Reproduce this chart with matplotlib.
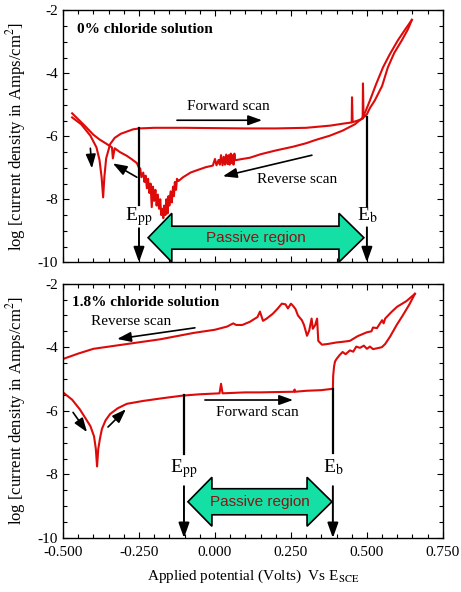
import matplotlib
matplotlib.use("Agg")
import matplotlib.pyplot as plt
from matplotlib.patches import Polygon
from matplotlib.ticker import MultipleLocator, FormatStrFormatter

plt.rcParams['font.family'] = 'serif'
plt.rcParams['font.serif'] = ['Liberation Serif', 'DejaVu Serif']
plt.rcParams['mathtext.fontset'] = 'stix'
plt.rcParams['axes.unicode_minus'] = False

# ---- 0% chloride: forward scan ----
fwd0_x = [-0.47, -0.44, -0.41, -0.39, -0.38, -0.373, -0.368, -0.364, -0.358, -0.345,
          -0.33, -0.31, -0.29, -0.27, -0.25, -0.2, -0.1, 0.0, 0.1, 0.2, 0.3, 0.38,
          0.42, 0.45, 0.451, 0.453, 0.47, 0.486, 0.487, 0.489, 0.50, 0.51, 0.526,
          0.55, 0.569, 0.59, 0.615, 0.635, 0.648]
fwd0_y = [-5.40, -5.62, -5.98, -6.35, -6.75, -7.30, -7.94, -7.30, -6.70, -6.25,
          -6.05, -5.92, -5.85, -5.78, -5.75, -5.73, -5.73, -5.74, -5.75, -5.75, -5.73, -5.66,
          -5.60, -5.56, -4.76, -5.55, -5.50, -5.44, -4.32, -5.40, -5.30, -5.10, -4.86,
          -4.40, -3.81, -3.35, -2.95, -2.60, -2.30]

# ---- 0% chloride: reverse scan ----
rev0_x = [0.648, 0.625, 0.602, 0.575, 0.553, 0.53, 0.51, 0.495, 0.484, 0.46, 0.42, 0.378,
          0.33, 0.30, 0.257, 0.20, 0.15, 0.115, 0.09,
          0.066, 0.064, 0.061, 0.058, 0.055, 0.052, 0.048, 0.045, 0.041, 0.037, 0.033,
          0.029, 0.025, 0.02, 0.016, 0.012, 0.005, 0.0, -0.007,
          -0.03, -0.06, -0.08, -0.105, -0.12,
          -0.125, -0.128, -0.132, -0.135, -0.138, -0.142, -0.146, -0.15, -0.153, -0.156,
          -0.16, -0.163, -0.167, -0.17, -0.173, -0.177, -0.18, -0.184, -0.188, -0.192,
          -0.196, -0.2, -0.204, -0.208, -0.212, -0.216, -0.22, -0.224, -0.228, -0.232,
          -0.236, -0.242, -0.246, -0.25,
          -0.257, -0.275, -0.29, -0.313, -0.33, -0.336, -0.339, -0.36, -0.38, -0.40,
          -0.43, -0.47]
rev0_y = [-2.30, -2.62, -2.95, -3.40, -3.81, -4.35, -4.86, -5.22, -5.43, -5.62, -5.82, -5.98,
          -6.12, -6.22, -6.33, -6.45, -6.57, -6.68, -6.72,
          -6.76, -6.55, -6.90, -6.60, -6.85, -6.55, -6.90, -6.60, -6.88, -6.58, -6.90,
          -6.65, -6.92, -6.60, -6.90, -6.75, -6.92, -6.72, -6.93,
          -6.98, -7.08, -7.15, -7.30, -7.42,
          -7.35, -7.70, -7.45, -7.90, -7.60, -8.10, -7.75, -8.20, -7.90, -8.45,
          -8.00, -8.50, -8.20, -8.60, -8.30, -8.50, -8.00, -8.30, -7.85, -8.20,
          -7.70, -8.05, -7.60, -8.25, -7.50, -7.80, -7.35, -7.65, -7.25, -7.45,
          -7.15, -7.30, -7.02, -7.00,
          -6.85, -6.72, -6.62, -6.50, -6.38, -6.70, -6.35, -6.22, -6.10, -5.95,
          -5.65, -5.27]

# ---- 1.8% chloride: forward scan ----
fwd18_x = [-0.5, -0.47, -0.445, -0.425, -0.41, -0.398, -0.392, -0.388, -0.384, -0.378,
           -0.372, -0.36, -0.345, -0.32, -0.29, -0.237, -0.17, -0.105, -0.05, 0.015,
           0.02, 0.025, 0.1, 0.15, 0.2, 0.26, 0.262, 0.264, 0.3, 0.35, 0.385, 0.388,
           0.389, 0.392, 0.395, 0.40, 0.41, 0.42, 0.43, 0.444, 0.455, 0.465, 0.477,
           0.49, 0.50, 0.51, 0.52, 0.535, 0.549, 0.56, 0.576, 0.598, 0.618, 0.64, 0.658]
fwd18_y = [-5.42, -5.65, -5.95, -6.25, -6.48, -6.80, -7.20, -7.75, -7.20, -6.85,
           -6.57, -6.30, -6.10, -5.92, -5.78, -5.69, -5.60, -5.52, -5.48, -5.45,
           -5.15, -5.45, -5.42, -5.42, -5.41, -5.40, -5.33, -5.40, -5.37, -5.35, -5.31, -5.31,
           -4.90, -4.60, -4.45, -4.37, -4.25, -4.15, -4.22, -4.10, -4.14, -3.98, -4.02,
           -3.95, -4.05, -3.98, -4.06, -4.03, -4.00, -3.90, -3.67, -3.30, -3.00, -2.65, -2.32]

# ---- 1.8% chloride: reverse scan ----
rev18_x = [0.658, 0.63, 0.599, 0.58, 0.56, 0.555, 0.55, 0.533, 0.52, 0.515, 0.5, 0.47,
           0.444, 0.42, 0.40, 0.37, 0.352, 0.34, 0.336, 0.33, 0.322, 0.318, 0.31, 0.303,
           0.293, 0.286, 0.273, 0.265, 0.257, 0.25, 0.24, 0.232, 0.22, 0.205, 0.19, 0.17,
           0.158, 0.148, 0.14, 0.115, 0.09, 0.07, 0.06, 0.04, 0.0, -0.07, -0.18, -0.29,
           -0.40, -0.45, -0.5]
rev18_y = [-2.32, -2.55, -2.73, -2.90, -3.10, -3.25, -3.15, -3.40, -3.38, -3.50, -3.53, -3.65,
           -3.80, -3.83, -3.85, -3.90, -3.92, -3.80, -3.10, -3.30, -3.42, -3.10, -3.48, -3.64,
           -3.30, -3.15, -3.00, -2.80, -2.70, -2.63, -2.78, -2.65, -2.63, -2.80, -2.95, -3.10,
           -3.17, -2.88, -3.05, -3.20, -3.30, -3.30, -3.25, -3.35, -3.45, -3.55, -3.75, -3.90,
           -4.05, -4.20, -4.37]

RED = '#DD0A0A'
GREEN = '#14E0A6'

fig = plt.figure(figsize=(4.61, 5.92), dpi=100)
ax1 = fig.add_axes([0.1367, 0.5570, 0.824, 0.4255])
ax2 = fig.add_axes([0.1367, 0.0912, 0.824, 0.4297])


def style_axes(ax, show_x):
    ax.set_xlim(-0.5, 0.75)
    ax.set_ylim(-10, -2)
    ax.xaxis.set_major_locator(MultipleLocator(0.25))
    ax.xaxis.set_minor_locator(MultipleLocator(0.05))
    ax.xaxis.set_major_formatter(FormatStrFormatter('%.3f'))
    ax.yaxis.set_major_locator(MultipleLocator(2))
    ax.yaxis.set_minor_locator(MultipleLocator(0.5))
    ax.yaxis.set_major_formatter(FormatStrFormatter('%d'))
    ax.tick_params(which='both', direction='in', top=True, right=True,
                   labelsize=11, width=0.8)
    ax.tick_params(which='major', length=4)
    ax.tick_params(which='minor', length=3)
    ax.tick_params(axis='x', labelbottom=show_x, pad=6)
    for sp in ax.spines.values():
        sp.set_linewidth(1.0)
    ax.set_ylabel('log [current density in Amps/cm$^2$]', fontsize=12)
    ax.yaxis.set_label_coords(-0.093, 0.5)


def passive_arrow(ax, x_tip_l, x_base_l, x_base_r, x_tip_r, yc, head_h, body_h):
    pts = [(x_tip_l, yc), (x_base_l, yc + head_h), (x_base_l, yc + body_h),
           (x_base_r, yc + body_h), (x_base_r, yc + head_h), (x_tip_r, yc),
           (x_base_r, yc - head_h), (x_base_r, yc - body_h), (x_base_l, yc - body_h),
           (x_base_l, yc - head_h)]
    ax.add_patch(Polygon(pts, closed=True, facecolor=GREEN, edgecolor='black',
                         lw=1.2, clip_on=False, zorder=3))
    ax.text((x_tip_l + x_tip_r) / 2, yc, 'Passive region', ha='center', va='center',
            family='Liberation Sans', fontsize=11, color='#8B1212', zorder=4)


def arrow(ax, start, end, lw=1.2, scale=12):
    ax.annotate('', xy=end, xytext=start,
                arrowprops=dict(arrowstyle='-|>,head_length=0.7,head_width=0.25',
                                color='black', lw=lw, mutation_scale=scale,
                                shrinkA=0, shrinkB=0))


def potential_marker(ax, x, y_curve, y_line_end, y_text, y_arrow_start, label):
    ax.plot([x, x], [y_curve, y_line_end], color='black', lw=1.6, zorder=2)
    ax.text(x, y_text, label, ha='center', va='center', fontsize=14)
    arrow(ax, (x, y_arrow_start), (x, -10.0), lw=1.4, scale=13)


# ---------- top panel ----------
style_axes(ax1, False)
ax1.plot(fwd0_x, fwd0_y, color=RED, lw=1.5, zorder=2)
ax1.plot(rev0_x, rev0_y, color=RED, lw=1.5, zorder=2)
ax1.text(-0.454, -2.6, '0% chloride solution', fontsize=11, fontweight='bold',
         ha='left', va='center')
ax1.text(0.043, -5.05, 'Forward scan', fontsize=11, ha='center', va='center')
arrow(ax1, (-0.125, -5.49), (0.155, -5.49))
ax1.text(0.27, -7.37, 'Reverse scan', fontsize=11, ha='center', va='center')
arrow(ax1, (0.319, -6.6), (0.026, -7.27))
arrow(ax1, (-0.41, -6.38), (-0.405, -7.02))
arrow(ax1, (-0.257, -7.3), (-0.336, -6.86))
potential_marker(ax1, -0.25, -5.75, -8.19, -8.55, -8.92, r'E$_{\mathrm{pp}}$')
potential_marker(ax1, 0.50, -5.40, -8.20, -8.50, -8.89, r'E$_{\mathrm{b}}$')
passive_arrow(ax1, -0.22, -0.142, 0.408, 0.49, -9.22, 0.775, 0.365)

# ---------- bottom panel ----------
style_axes(ax2, True)
ax2.plot(fwd18_x, fwd18_y, color=RED, lw=1.5, zorder=2)
ax2.plot(rev18_x, rev18_y, color=RED, lw=1.5, zorder=2)
ax2.text(-0.47, -2.6, '1.8% chloride solution', fontsize=11, fontweight='bold',
         ha='left', va='center')
ax2.text(-0.277, -3.2, 'Reverse scan', fontsize=11, ha='center', va='center')
arrow(ax2, (-0.066, -3.39), (-0.322, -3.74))
ax2.text(0.138, -6.05, 'Forward scan', fontsize=11, ha='center', va='center')
arrow(ax2, (-0.033, -5.66), (0.257, -5.66))
arrow(ax2, (-0.467, -6.05), (-0.421, -6.67))
arrow(ax2, (-0.352, -6.51), (-0.293, -5.95))
potential_marker(ax2, -0.102, -5.50, -7.37, -7.82, -8.37, r'E$_{\mathrm{pp}}$')
potential_marker(ax2, 0.388, -5.31, -7.33, -7.78, -8.37, r'E$_{\mathrm{b}}$')
passive_arrow(ax2, -0.089, -0.01, 0.303, 0.385, -8.86, 0.77, 0.41)
ax2.set_xlabel(r'Applied potential (Volts)  Vs E$_{\mathrm{SCE}}$', fontsize=11, labelpad=6)

fig.savefig('out.png', dpi=100)
